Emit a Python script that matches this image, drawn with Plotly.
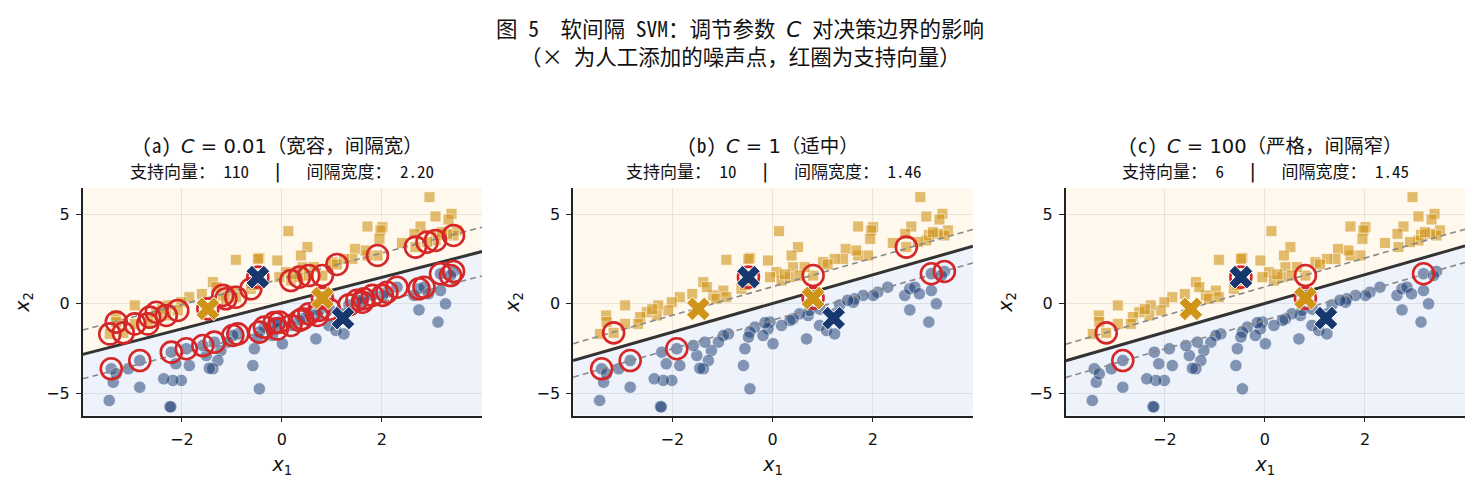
import plotly.graph_objects as go

# class +1 (orange squares)
pos_x1 = [-3.17, 0.81, 2.67, 2.95, 3.07, 3.39, 3.33, 3.50, 3.43, 3.30, 3.12, 3.07, 2.90, 2.77, 2.65,
          2.01, 1.97, 1.71, 1.95, 1.91, 1.71, 1.67, 1.46, 1.41, 1.24, 1.01, 0.64, 0.51, 0.38, 0.41,
          0.13, -0.09, 0.08, -0.05, 0.18, 0.35, 0.54, -0.45, -0.48, -0.92, -0.62, -0.98, -1.18, -1.12, -0.92,
          -1.38, -1.31, -1.85, -2.01, -2.08, -2.28, -2.31, -2.51, -2.64, -2.68, -2.94, -2.94, -3.32, -3.31, -3.44,
          -0.55, 0.25, 1.10, 2.40, 3.20, -1.60, -2.40]
pos_x2 = [-1.62, 1.58, 3.17, 5.96, 4.88, 5.03, 4.71, 4.10, 3.82, 3.91, 3.85, 3.54, 3.45, 4.32, 3.91,
          4.28, 4.10, 4.32, 3.63, 2.70, 2.70, 2.98, 3.07, 2.51, 2.51, 2.33, 2.05, 3.17, 2.70, 2.05,
          4.06, 2.42, 1.77, 1.49, 1.30, 1.49, 1.58, 2.57, 2.51, 2.46, 0.84, 0.74, 0.47, 0.28, 0.37,
          1.21, 0.93, 0.37, 0.09, -0.37, -0.09, -0.65, -0.47, -0.74, -1.12, -0.09, -1.12, -0.65, -1.02, -1.68,
          1.05, 1.65, 2.20, 3.40, 4.00, 0.55, -0.30]

# class -1 (blue circles)
neg_x1 = [-3.41, -2.84, -1.91, 3.17, 3.43, 3.37, 2.30, 2.10, 2.01, 1.81, 1.64, 1.61, 2.64, 2.74, 2.84,
          2.93, 2.74, 3.12, 3.27, 3.17, 1.34, 1.24, 0.94, 1.08, 1.24, 0.68, 0.71, 0.74, 0.54, 0.41,
          0.35, 0.18, 0.01, -0.05, -0.09, -0.19, -0.35, -0.45, -0.48, -0.55, -0.58, -0.45, -0.88, -0.98, -1.08,
          -1.22, -1.28, -1.38, -1.35, -1.51, -1.58, -1.85, -2.01, -2.18, -2.21, -2.12, -2.36, -2.24, -2.84, -3.07,
          -3.37, -3.45, -3.31, 0.95, 1.50, -0.15, -1.45, -2.22]
neg_x2 = [-3.63, -3.17, -2.51, 1.68, 1.81, 1.58, 0.93, 0.65, 0.47, 0.47, 0.28, 0.09, 0.47, 0.84, 0.93,
          0.56, -0.34, -1.02, 0.00, 0.74, -0.06, -0.56, -1.21, -1.49, -1.68, -1.96, -0.65, -0.37, -0.56, -0.84,
          -0.93, -1.21, -2.23, -1.02, -1.40, -1.77, -1.30, -1.58, -1.86, -2.51, -3.45, -4.75, -1.68, -1.77, -2.14,
          -2.61, -3.17, -3.63, -2.14, -2.89, -2.33, -3.45, -4.28, -4.28, -2.70, -3.35, -4.19, -5.74, -4.66, -3.63,
          -4.38, -5.40, -3.91, -0.30, 0.20, -1.05, -3.60, -5.76]

# hand-added noise points (crosses)
noise_x1 = [-1.48, 0.81, -0.48, 1.22]
noise_x2 = [-0.28, 0.32, 1.49, -0.80]
noise_label = [1, 1, -1, -1]

panel_tags = ["(a)", "(b)", "(c)"]
c_values = ["0.01", "1", "100"]
c_notes = ["宽容，间隔宽", "适中", "严格，间隔窄"]
sv_counts = [110, 10, 6]
margin_widths = ["2.20", "1.46", "1.45"]

# decision boundary x2 = slope * x1 + intercept, margins at +/- offset
slopes = [0.72, 0.80, 0.805]
intercepts = [0.04, 0.02, 0.02]
offsets = [1.36, 0.935, 0.93]

# support vectors for (b), (c) as indices; (a) is taken from the margin test
sv_pos_idx = [None, [0, 1, 2], [0, 1]]
sv_neg_idx = [None, [0, 1, 2, 3, 4], [1, 3]]
sv_noise_idx = [None, [1, 2], [1, 2]]

X_RANGE = [-3.98, 4.0]
Y_RANGE = [-6.25, 6.47]
DOMAINS = [[0.0559, 0.3257], [0.3872, 0.6574], [0.7201, 0.9899]]
Y_DOMAIN = [0.1585, 0.6194]

ORANGE = "#d09418"
BLUE = "#17386f"
RED = "#d62728"
FILL_POS = "#fff8ec"
FILL_NEG = "#eef3fb"
INK = "#111111"
CJK = "Noto Sans Mono CJK SC, Noto Sans CJK SC"
MATH = "font-family:DejaVu Sans"
BAR = "<span style='font-family:DejaVu Sans;font-size:19px'>|</span>"


def margin_svs(slope, intercept, offset):
    px, py, nx, ny, zx, zy = [], [], [], [], [], []
    for x, y in zip(pos_x1, pos_x2):
        if (y - slope * x - intercept) / offset <= 1.02:
            px.append(x)
            py.append(y)
    for x, y in zip(neg_x1, neg_x2):
        if -(y - slope * x - intercept) / offset <= 1.02:
            nx.append(x)
            ny.append(y)
    for x, y, lab in zip(noise_x1, noise_x2, noise_label):
        if lab * (y - slope * x - intercept) / offset <= 1.02:
            zx.append(x)
            zy.append(y)
    return px + nx + zx, py + ny + zy


fig = go.Figure()

for i in range(3):
    xa = "x" if i == 0 else f"x{i + 1}"
    ya = "y" if i == 0 else f"y{i + 1}"
    m, c, d = slopes[i], intercepts[i], offsets[i]
    x_lo, x_hi = X_RANGE
    y_lo, y_hi = Y_RANGE

    # shaded decision regions (below grid)
    fig.add_shape(type="path", xref=xa, yref=ya, layer="below", line_width=0, fillcolor=FILL_POS,
                  path=f"M {x_lo},{m * x_lo + c} L {x_hi},{m * x_hi + c} L {x_hi},{y_hi} L {x_lo},{y_hi} Z")
    fig.add_shape(type="path", xref=xa, yref=ya, layer="below", line_width=0, fillcolor=FILL_NEG,
                  path=f"M {x_lo},{m * x_lo + c} L {x_hi},{m * x_hi + c} L {x_hi},{y_lo} L {x_lo},{y_lo} Z")

    fig.add_trace(go.Scatter(x=neg_x1, y=neg_x2, mode="markers", xaxis=xa, yaxis=ya, showlegend=False,
                             marker=dict(symbol="circle", size=12.5, color=BLUE, opacity=0.5,
                                         line=dict(color="white", width=0.8))))
    fig.add_trace(go.Scatter(x=pos_x1, y=pos_x2, mode="markers", xaxis=xa, yaxis=ya, showlegend=False,
                             marker=dict(symbol="square", size=11, color=ORANGE, opacity=0.6,
                                         line=dict(color="white", width=0.8))))

    line_x = [x_lo, x_hi]
    fig.add_trace(go.Scatter(x=line_x, y=[m * v + c for v in line_x], mode="lines", xaxis=xa, yaxis=ya,
                             showlegend=False, line=dict(color="#333333", width=3)))
    for sgn in (1, -1):
        fig.add_trace(go.Scatter(x=line_x, y=[m * v + c + sgn * d for v in line_x], mode="lines",
                                 xaxis=xa, yaxis=ya, showlegend=False,
                                 line=dict(color="#888888", width=1.6, dash="6px,4px")))

    if sv_pos_idx[i] is None:
        sv_x, sv_y = margin_svs(m, c, d)
    else:
        sv_x = [pos_x1[k] for k in sv_pos_idx[i]] + [neg_x1[k] for k in sv_neg_idx[i]] + \
               [noise_x1[k] for k in sv_noise_idx[i]]
        sv_y = [pos_x2[k] for k in sv_pos_idx[i]] + [neg_x2[k] for k in sv_neg_idx[i]] + \
               [noise_x2[k] for k in sv_noise_idx[i]]
    fig.add_trace(go.Scatter(x=sv_x, y=sv_y, mode="markers", xaxis=xa, yaxis=ya, showlegend=False,
                             marker=dict(symbol="circle-open", size=21, color=RED,
                                         line=dict(color=RED, width=2.6))))

    fig.add_trace(go.Scatter(x=noise_x1, y=noise_x2, mode="markers", xaxis=xa, yaxis=ya, showlegend=False,
                             marker=dict(symbol="x", size=21,
                                         color=[ORANGE if lab > 0 else BLUE for lab in noise_label],
                                         line=dict(color="white", width=1))))

    axis_common = dict(showline=True, linecolor="#222222", linewidth=1.5, mirror=False,
                       ticks="outside", ticklen=5, tickwidth=1.2, tickcolor="#222222",
                       ticklabelstandoff=3,
                       showgrid=True, gridcolor="rgba(0,0,0,0.08)", gridwidth=1, zeroline=False,
                       tickfont=dict(family="DejaVu Sans", size=16, color=INK))
    fig.layout[f"xaxis{'' if i == 0 else i + 1}"] = dict(
        axis_common, domain=DOMAINS[i], range=X_RANGE, anchor=ya, tickvals=[-2, 0, 2],
        ticktext=["−2", "0", "2"],
        title=dict(text="<i>x</i><sub>1</sub>", font=dict(family="DejaVu Sans", size=19, color=INK),
                   standoff=10))
    fig.layout[f"yaxis{'' if i == 0 else i + 1}"] = dict(
        axis_common, domain=Y_DOMAIN, range=Y_RANGE, anchor=xa, tickvals=[-5, 0, 5],
        ticktext=["−5", "0", "5"],
        title=dict(text="<i>x</i><sub>2</sub>", font=dict(family="DejaVu Sans", size=19, color=INK),
                   standoff=12))

    cx = (DOMAINS[i][0] + DOMAINS[i][1]) / 2
    fig.add_annotation(x=cx, y=1 - 145 / 494, xref="paper", yref="paper", showarrow=False,
                       xanchor="center", yanchor="middle",
                       text=f"{panel_tags[i]} <span style='{MATH}'><i>C</i> = {c_values[i]}</span>（{c_notes[i]}）",
                       font=dict(family=CJK, size=19.5, color=INK))
    fig.add_annotation(x=cx, y=1 - 170 / 494, xref="paper", yref="paper", showarrow=False,
                       xanchor="center", yanchor="middle",
                       text=f"支持向量： {sv_counts[i]}   {BAR}   间隔宽度： {margin_widths[i]}",
                       font=dict(family=CJK, size=17, color=INK))

fig.add_annotation(x=0.5, y=1 - 28 / 494, xref="paper", yref="paper", showarrow=False,
                   xanchor="center", yanchor="middle",
                   text=f"图 5  软间隔 SVM：调节参数 <span style='{MATH}'><i>C</i></span> 对决策边界的影响",
                   font=dict(family=CJK, size=21.5, color=INK))
fig.add_annotation(x=0.5, y=1 - 55 / 494, xref="paper", yref="paper", showarrow=False,
                   xanchor="center", yanchor="middle",
                   text="（× 为人工添加的噪声点，红圈为支持向量）",
                   font=dict(family=CJK, size=21.5, color=INK))

fig.update_layout(width=1480, height=494, margin=dict(l=0, r=0, t=0, b=0),
                  paper_bgcolor="white", plot_bgcolor="white", font=dict(color=INK))

fig.write_html("out.html", config={"displayModeBar": False},
               post_script="document.body.style.margin='0';")
